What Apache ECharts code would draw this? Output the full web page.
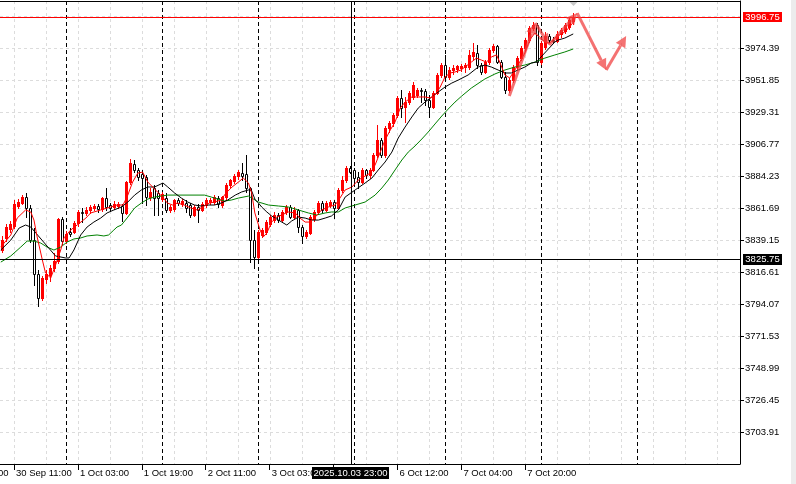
<!DOCTYPE html>
<html><head><meta charset="utf-8">
<script src="https://cdn.jsdelivr.net/npm/echarts@6/dist/echarts.min.js"></script>
<style>html,body{margin:0;padding:0;background:#fff;overflow:hidden}#c{width:796px;height:484px}</style>
</head><body><div id="c"></div>
<script>
// ---- data (H1 bars, index 0 = 30 Sep 08:00) ----
const barOpen = [3832.3,3840.8,3847.1,3849.2,3863.3,3865.4,3869.6,3861.9,3839.3,3815.4,3798.5,3811.9,3814.7,3819.6,3824.6,3854.1,3838.6,3845.0,3845.0,3851.3,3859.1,3858.4,3860.5,3861.9,3863.3,3861.2,3868.9,3864.0,3862.6,3863.3,3863.3,3858.4,3880.2,3892.9,3888.7,3885.8,3883.7,3869.6,3876.0,3872.5,3868.2,3868.9,3860.5,3861.2,3867.5,3864.7,3865.4,3864.0,3857.0,3862.6,3860.5,3864.0,3866.1,3866.1,3868.9,3864.0,3869.6,3878.1,3880.9,3884.4,3886.5,3885.8,3876.0,3839.3,3827.4,3842.9,3845.0,3850.6,3853.4,3857.0,3853.4,3859.1,3862.6,3855.5,3860.5,3848.5,3842.2,3844.3,3854.1,3859.1,3865.4,3860.5,3864.0,3866.1,3861.9,3874.6,3881.6,3890.1,3888.7,3883.7,3880.2,3888.7,3885.1,3888.7,3899.2,3909.8,3899.2,3918.2,3921.8,3927.4,3939.4,3933.0,3936.5,3940.1,3941.5,3945.0,3944.3,3938.0,3933.0,3942.9,3955.6,3962.6,3954.2,3959.1,3959.8,3960.5,3961.2,3961.2,3969.0,3971.1,3962.6,3957.7,3964.7,3973.2,3976.0,3964.7,3954.2,3945.0,3952.0,3961.2,3967.5,3974.6,3980.2,3988.7,3990.8,3964.7,3975.3,3983.0,3980.2,3979.5,3984.4,3986.6,3989.4,3993.6];
const barHigh = [3842.2,3850.6,3852.7,3867.5,3868.2,3871.0,3872.5,3864.0,3847.8,3818.2,3814.0,3818.2,3821.7,3830.2,3854.8,3855.5,3845.7,3847.8,3852.7,3860.5,3861.9,3862.6,3864.0,3864.7,3864.7,3869.6,3876.0,3865.4,3866.8,3866.1,3864.7,3880.9,3896.4,3895.7,3890.1,3888.7,3885.1,3876.0,3878.1,3874.6,3873.2,3872.5,3864.0,3868.2,3868.9,3868.2,3867.5,3865.4,3864.0,3864.7,3866.1,3868.9,3868.9,3871.0,3870.3,3870.3,3879.5,3882.3,3885.8,3888.7,3893.6,3899.2,3876.7,3846.4,3846.4,3847.8,3853.4,3857.0,3859.1,3858.4,3860.5,3864.0,3864.0,3862.6,3861.2,3849.9,3846.4,3857.0,3860.5,3866.8,3866.8,3866.8,3867.5,3867.5,3876.0,3884.4,3891.5,3891.5,3890.1,3887.2,3890.1,3889.4,3890.1,3900.6,3920.4,3911.2,3919.6,3923.2,3928.8,3940.8,3945.0,3940.1,3944.3,3950.6,3946.4,3946.4,3946.0,3941.5,3944.3,3957.0,3964.0,3969.7,3961.2,3962.6,3962.6,3963.3,3964.0,3973.2,3978.1,3976.7,3964.0,3966.1,3974.6,3977.4,3976.7,3966.1,3957.7,3953.5,3962.6,3969.0,3976.0,3981.6,3990.1,3992.9,3992.2,3979.5,3985.9,3984.4,3982.3,3986.6,3988.7,3992.2,3995.7,3999.2];
const barLow = [3830.9,3838.6,3845.0,3847.8,3861.9,3864.7,3855.5,3837.9,3807.6,3792.9,3797.1,3809.1,3810.5,3817.5,3823.1,3836.5,3837.2,3842.2,3844.3,3849.2,3852.0,3857.0,3858.4,3860.5,3859.1,3859.8,3860.5,3859.8,3861.2,3861.9,3852.7,3857.7,3878.8,3887.2,3881.6,3865.4,3864.0,3867.5,3857.0,3857.0,3866.8,3859.1,3859.1,3859.8,3864.0,3863.3,3859.1,3855.5,3856.3,3852.0,3859.8,3862.6,3864.7,3864.7,3862.6,3862.6,3868.2,3876.7,3879.5,3882.3,3881.6,3873.2,3823.8,3819.6,3826.7,3841.5,3843.6,3849.2,3852.0,3852.0,3852.7,3857.7,3854.8,3854.8,3845.0,3837.2,3840.8,3843.6,3852.7,3857.7,3859.1,3859.8,3862.6,3854.8,3861.2,3873.2,3880.2,3886.5,3878.1,3876.0,3879.5,3883.0,3883.0,3888.0,3897.8,3897.8,3897.8,3915.4,3919.6,3926.0,3926.0,3922.5,3935.1,3938.7,3940.1,3936.5,3934.4,3926.0,3932.3,3942.2,3954.2,3952.8,3952.8,3956.3,3957.7,3958.4,3957.7,3959.8,3966.8,3960.5,3956.3,3957.0,3963.3,3971.8,3964.0,3953.5,3942.9,3943.6,3950.6,3959.1,3966.1,3972.5,3978.8,3987.3,3962.6,3963.3,3973.9,3978.8,3978.1,3978.8,3982.3,3985.2,3988.0,3991.5];
const barClose = [3839.3,3848.5,3850.6,3864.7,3866.1,3869.6,3861.9,3839.3,3815.4,3798.5,3812.6,3815.4,3819.6,3824.6,3854.1,3838.6,3843.6,3843.6,3851.3,3859.1,3858.4,3860.5,3862.6,3863.3,3861.2,3868.9,3862.6,3861.9,3864.7,3864.7,3858.4,3880.2,3893.6,3888.7,3883.7,3883.0,3869.6,3873.2,3868.9,3868.9,3871.8,3860.5,3862.6,3867.5,3865.4,3866.8,3861.9,3857.0,3862.6,3860.5,3864.7,3867.5,3867.5,3869.6,3864.7,3869.6,3878.1,3881.6,3884.4,3887.2,3884.4,3876.0,3839.3,3827.4,3845.0,3846.4,3852.0,3855.5,3857.0,3853.4,3859.1,3862.6,3855.5,3860.5,3848.5,3842.2,3845.0,3855.5,3859.1,3865.4,3860.5,3865.4,3866.1,3861.9,3874.6,3881.6,3890.1,3887.2,3883.0,3880.2,3888.7,3885.1,3888.7,3899.2,3909.8,3899.2,3918.2,3921.8,3927.4,3939.4,3932.3,3936.5,3942.9,3948.5,3945.0,3944.3,3938.0,3933.0,3942.9,3955.6,3962.6,3954.2,3959.1,3960.5,3961.9,3961.9,3962.6,3969.7,3971.8,3962.6,3957.7,3964.7,3973.2,3976.0,3964.7,3954.2,3945.0,3952.0,3961.2,3967.5,3974.6,3980.2,3988.7,3990.8,3964.7,3978.1,3983.0,3980.2,3979.5,3984.4,3987.3,3990.8,3994.3,3996.75];

// moving averages: [bar, price]
const maFast = [[-0.3,3834.4],[2.2,3842.9],[3.8,3854.8],[5.9,3860.5],[7.2,3859.1],[8,3853.4],[8.8,3841.5],[10.1,3825.3],[10.9,3816.1],[12.2,3812.6],[13.4,3821.7],[14.7,3832.3],[15.5,3840.8],[17.2,3846.4],[18.8,3849.9],[21,3854.8],[22.2,3858.4],[24.7,3860.5],[27.2,3862.6],[28.8,3864.0],[30.3,3864.0],[31.5,3871.0],[32.7,3880.2],[34,3886.5],[35.2,3887.2],[36.5,3880.2],[37.7,3876.7],[38.9,3873.2],[40.2,3869.6],[41.4,3865.4],[42.7,3864.0],[43.9,3865.4],[45.6,3864.0],[47.3,3861.9],[48.9,3860.5],[50.2,3862.6],[51.9,3865.4],[53.2,3866.1],[54.8,3867.5],[56.1,3872.5],[57.6,3876.7],[59.2,3880.2],[60.4,3883.0],[61.7,3879.5],[62.5,3872.5],[63.3,3858.4],[64.6,3846.4],[65.4,3841.5],[66.3,3844.3],[67.5,3852.0],[68.8,3855.5],[70,3857.0],[71.7,3859.1],[73.4,3858.4],[74.6,3854.8],[75.9,3852.0],[77.1,3852.0],[78.4,3855.5],[80,3860.5],[81.7,3862.6],[83.4,3864.0],[84.6,3868.9],[85.9,3874.6],[87.6,3876.7],[89.2,3881.6],[90.9,3884.4],[92.2,3886.5],[93.4,3892.2],[94.7,3901.3],[95.9,3909.8],[97.2,3916.8],[98.4,3922.5],[99.7,3932.3],[100.9,3936.5],[102.6,3940.1],[104.2,3940.1],[105.9,3940.1],[107.2,3939.4],[108.4,3941.5],[109.7,3947.1],[110.9,3954.2],[112.2,3957.0],[113.4,3957.7],[114.9,3959.1],[115.9,3961.2],[117.5,3964.7],[118.8,3967.5],[120,3966.1],[121.3,3964.7],[122.5,3968.3],[123.8,3969.7],[124.6,3964.7],[125.9,3955.6],[127.1,3953.5],[128.4,3959.1],[129.6,3964.7],[130.9,3971.1],[132.1,3980.2],[133.4,3985.2],[134.6,3982.3],[135.9,3978.8],[137.1,3978.1],[138.4,3981.6],[139.6,3983.8],[140.9,3985.9],[142.1,3989.4],[143,3992.9]];
const maMid = [[-0.3,3832.3],[2.2,3839.3],[4.3,3847.8],[5.9,3849.9],[7.2,3848.5],[13.4,3828.1],[13.8,3827.4],[15.9,3826.7],[16.8,3826.7],[18,3832.3],[19.7,3842.9],[21.3,3848.5],[23,3852.0],[24.7,3854.8],[26.3,3858.4],[28,3860.5],[29.9,3862.6],[31.5,3866.1],[33.2,3871.0],[34.9,3874.6],[36.5,3876.7],[38.2,3876.7],[40.3,3879.5],[41.5,3876.7],[43.2,3872.5],[44.9,3868.9],[46.5,3866.1],[48.2,3864.0],[49.9,3863.3],[51.5,3864.0],[53.2,3864.0],[54.9,3865.4],[56.5,3867.5],[58.4,3871.0],[60,3873.2],[61.7,3874.6],[62.5,3873.9],[63.4,3867.5],[64.2,3865.4],[65,3862.6],[66.3,3859.1],[67.5,3856.3],[69.2,3853.4],[71.3,3849.9],[72.5,3852.7],[74.2,3855.5],[75.9,3854.8],[77.5,3853.4],[79.2,3853.4],[80.9,3854.8],[82.5,3856.3],[84.2,3860.5],[85.9,3869.6],[88.4,3874.6],[90.9,3879.5],[92.6,3883.0],[94.2,3888.7],[95.9,3894.3],[97.6,3901.3],[99.2,3911.2],[100.9,3918.9],[102.6,3926.0],[104.2,3932.3],[105.9,3936.5],[107.6,3940.1],[109.2,3943.6],[110.9,3947.1],[112.6,3949.9],[114.2,3952.0],[116.7,3955.6],[119.2,3961.2],[120.9,3962.6],[122.5,3961.2],[124.2,3959.1],[125.9,3957.0],[127.5,3957.0],[129.2,3959.1],[130.9,3961.2],[132.5,3964.0],[133.8,3964.7],[135.4,3969.7],[138.4,3978.8],[139.2,3980.2],[140.9,3981.6],[143,3984.5]];
const maSlow = [[-0.3,3823.8],[2.2,3828.1],[4.7,3834.4],[6.3,3838.6],[8,3838.6],[9.7,3837.2],[11.3,3834.4],[13,3832.3],[14.7,3834.4],[16.3,3837.9],[18,3840.1],[19.7,3840.8],[21.3,3842.2],[23.8,3842.9],[25.5,3842.2],[26.7,3842.9],[28,3846.4],[28.8,3848.5],[29.9,3849.9],[31.5,3855.5],[33.2,3861.9],[34.9,3865.4],[36.5,3868.2],[38.2,3869.6],[39.9,3870.3],[41.5,3871.0],[43.2,3871.0],[50.7,3871.0],[52.4,3869.6],[54,3868.2],[55.7,3866.8],[57.4,3867.5],[59.2,3868.9],[61.7,3870.3],[64.2,3866.1],[66.7,3864.0],[69.2,3863.3],[71.7,3862.6],[74.2,3860.5],[76.7,3858.4],[78.8,3857.0],[80.9,3858.4],[82.5,3859.1],[84.2,3859.1],[85.9,3861.9],[88.4,3864.0],[90.9,3866.1],[93.4,3871.0],[95.1,3876.0],[96.7,3881.6],[98.4,3888.7],[100.1,3895.7],[101.7,3901.3],[103.4,3905.6],[105.1,3910.5],[106.7,3915.4],[108.4,3921.1],[110.1,3926.7],[111.7,3931.6],[113.4,3936.5],[115.1,3940.8],[117.5,3946.4],[120.9,3952.8],[123.4,3956.3],[125.9,3959.1],[128.4,3961.2],[130.9,3962.6],[133.4,3964.7],[135.9,3967.5],[138.4,3969.7],[140.9,3971.8],[143,3973.9]];

// axis ticks
const priceTicks = [3703.91,3726.45,3748.99,3771.53,3794.07,3816.61,3839.15,3861.69,3884.23,3906.77,3929.31,3951.85,3974.39];
const priceGrid = [3703.91,3726.45,3748.99,3771.53,3794.07,3816.61,3839.15,3861.69,3884.23,3906.77,3929.31,3951.85,3974.39,3996.93];
const timeTickBars = [3,19,35,51,67,83,99,115,131];
const timeTickLabels = ['30 Sep 11:00','1 Oct 03:00','1 Oct 19:00','2 Oct 11:00','3 Oct 03:00','3 Oct 19:00','6 Oct 12:00','7 Oct 04:00','7 Oct 20:00'];
const timeLabelBars = [3,19,35,51,67,99,115,131];
const offscreenTickBar = -13;
const offscreenTickLabel = '29 Sep 19:00';
const gridBars = [3,11,19,27,35,43,51,59,67,75,83,91,99,107,115,123,131,139,147,155,163,171,179];
const daySeparators = [16,40,64,88,111,135,159];

// price line, crosshair, drawn arrows
const bidPrice = 3996.75;
const crossBar = 87.25;
const crossPrice = 3825.75;
const crossTime = '2025.10.03 23:00';
const arrowFromBar = [127, 133.5, 137, 144, 151.25];
const arrowFromPrice = [3940.8, 3992.2, 3976.7, 3999.2, 3959.1];
const arrowToBar = [133.5, 137, 144, 151.25, 156.25];
const arrowToPrice = [3992.2, 3976.7, 3999.2, 3959.1, 3983.0];

const FAMILY = '"Liberation Sans", Arial, sans-serif';
const FSIZE = 9.5;
const FONT = FSIZE + 'px ' + FAMILY;
const ARROW = 'rgba(240,60,60,0.72)';

const candles = barOpen.map((o, i) => [i, o, barHigh[i], barLow[i], barClose[i]]);
const arrows = arrowFromBar.map((b, i) => [b, arrowFromPrice[i], arrowToBar[i], arrowToPrice[i]]);
const lastBar = barClose.length - 1;

function px(v) { return Math.round(v) + 0.5; }

const chart = echarts.init(document.getElementById('c'), null, {renderer: 'canvas'});
chart.setOption({
  animation: false,
  backgroundColor: '#ffffff',
  textStyle: {fontFamily: FAMILY},
  grid: {left: -1, top: 1, width: 741, height: 463, show: false},
  xAxis: {
    type: 'value', min: -0.5, max: 184.75, position: 'bottom',
    axisLine: {show: true, onZero: false, lineStyle: {color: '#000', width: 1}},
    axisTick: {show: true, length: 6, inside: false, customValues: timeTickBars, lineStyle: {color: '#000'}},
    axisLabel: {
      show: true, customValues: timeLabelBars, align: 'left', margin: 4, padding: [0, 0, 0, 2],
      color: '#000', fontSize: FSIZE, fontFamily: FAMILY, hideOverlap: false,
      formatter: v => { const k = timeTickBars.indexOf(v); return k >= 0 ? timeTickLabels[k] : ''; }
    },
    splitLine: {show: false}
  },
  yAxis: {
    type: 'value', min: 3681.57, max: 4007.71, position: 'right', scale: true,
    axisLine: {show: true, onZero: false, lineStyle: {color: '#000', width: 1}},
    axisTick: {show: true, length: 4, inside: false, customValues: priceTicks, lineStyle: {color: '#000'}},
    axisLabel: {
      show: true, customValues: priceTicks, margin: 5, color: '#000', fontSize: FSIZE,
      fontFamily: FAMILY, formatter: v => v.toFixed(2)
    },
    splitLine: {show: false}
  },
  series: [
    { // horizontal grid
      type: 'custom', silent: true, z: 1, data: priceGrid.map(v => [0, v]),
      renderItem: (params, api) => {
        const cs = params.coordSys; const y = px(api.coord([0, api.value(1)])[1]);
        return {type: 'line', shape: {x1: 0, y1: y, x2: cs.x + cs.width, y2: y},
          style: {stroke: '#dcdcdc', lineWidth: 1, lineDash: [3, 3]}};
      }
    },
    { // vertical grid
      type: 'custom', silent: true, z: 1, data: gridBars.map(b => [b, 3800]),
      renderItem: (params, api) => {
        const cs = params.coordSys; const x = px(api.coord([api.value(0), 3800])[0]);
        return {type: 'line', shape: {x1: x, y1: cs.y, x2: x, y2: cs.y + cs.height},
          style: {stroke: '#dcdcdc', lineWidth: 1, lineDash: [3, 3]}};
      }
    },
    { // day separators
      type: 'custom', silent: true, z: 2, data: daySeparators.map(b => [b, 3800]),
      renderItem: (params, api) => {
        const cs = params.coordSys; const x = px(api.coord([api.value(0), 3800])[0]);
        return {type: 'line', shape: {x1: x, y1: cs.y, x2: x, y2: cs.y + cs.height},
          style: {stroke: '#000', lineWidth: 1, lineDash: [4, 3]}};
      }
    },
    { // frame top + chart-shift marker above the last bar
      type: 'custom', silent: true, z: 2, data: [[lastBar, 3800]],
      renderItem: (params, api) => {
        const cs = params.coordSys; const x = Math.round(api.coord([api.value(0), 3800])[0]) + 0.5;
        return {type: 'group', children: [
          {type: 'rect', shape: {x: 0, y: cs.y, width: cs.x + cs.width, height: 1}, style: {fill: '#000'}},
          {type: 'polygon', shape: {points: [[x - 4, cs.y + 1], [x + 4, cs.y + 1], [x, cs.y + 5]]}, style: {fill: '#c8c8c8'}}
        ]};
      }
    },
    { // time label of the bar just left of the window (only its tail shows)
      type: 'custom', silent: true, z: 2, data: [[offscreenTickBar, 3800]],
      renderItem: (params, api) => {
        const cs = params.coordSys; const x = Math.round(api.coord([api.value(0), 3800])[0]);
        return {type: 'text', style: {text: offscreenTickLabel, x: x + 2, y: cs.y + cs.height + 4, align: 'left', verticalAlign: 'top',
          font: FONT, fill: '#000'}};
      }
    },
    { // candles
      type: 'custom', silent: true, z: 3, data: candles, encode: {x: 0, y: [1, 2, 3, 4]},
      renderItem: (params, api) => {
        const i = api.value(0), o = api.value(1), h = api.value(2), l = api.value(3), c = api.value(4);
        const po = api.coord([i, o]), ph = api.coord([i, h]), pl = api.coord([i, l]), pc = api.coord([i, c]);
        const cx = Math.round(po[0]);
        const up = c >= o;
        const ink = up ? '#ff0000' : '#000000';
        const top = Math.round(Math.min(po[1], pc[1])), bot = Math.round(Math.max(po[1], pc[1]));
        const kids = [{type: 'rect', shape: {x: cx, y: Math.round(ph[1]), width: 1, height: Math.round(pl[1]) - Math.round(ph[1]) + 1},
          style: {fill: ink}}];
        if (up) {
          kids.push({type: 'rect', shape: {x: cx - 1, y: top, width: 3, height: Math.max(1, bot - top + 1)}, style: {fill: ink}});
        } else if (bot - top < 1) {
          kids.push({type: 'rect', shape: {x: cx - 1, y: top, width: 3, height: 1}, style: {fill: ink}});
        } else {
          kids.push({type: 'rect', shape: {x: cx - 0.5, y: top + 0.5, width: 2, height: bot - top},
            style: {fill: '#ffffff', stroke: ink, lineWidth: 1}});
        }
        return {type: 'group', children: kids};
      }
    },
    {type: 'line', name: 'MA slow', z: 4, silent: true, symbol: 'none', data: maSlow, lineStyle: {color: '#008000', width: 1}},
    {type: 'line', name: 'MA mid', z: 4, silent: true, symbol: 'none', data: maMid, lineStyle: {color: '#000000', width: 1}},
    {type: 'line', name: 'MA fast', z: 4, silent: true, symbol: 'none', data: maFast, lineStyle: {color: '#ff0000', width: 1}},
    { // bid line
      type: 'custom', silent: true, z: 5, data: [[0, bidPrice]],
      renderItem: (params, api) => {
        const cs = params.coordSys; const y = Math.round(api.coord([0, api.value(1)])[1]);
        return {type: 'group', children: [
          {type: 'rect', shape: {x: 0, y: y, width: cs.x + cs.width, height: 1}, style: {fill: '#ff0000'}},
          {type: 'rect', shape: {x: cs.x + cs.width + 3, y: y - 5, width: 39, height: 10}, style: {fill: '#ff0000'}},
          {type: 'text', style: {text: api.value(1).toFixed(2), x: cs.x + cs.width + 22.5, y: y + 0.5, align: 'center', verticalAlign: 'middle',
            font: FONT, fill: '#ffffff'}}
        ]};
      }
    },
    { // crosshair
      type: 'custom', silent: true, z: 6, data: [[crossBar, crossPrice]],
      renderItem: (params, api) => {
        const cs = params.coordSys; const p = api.coord([api.value(0), api.value(1)]);
        const x = Math.round(p[0]), y = Math.round(p[1]);
        return {type: 'group', children: [
          {type: 'rect', shape: {x: 0, y: y, width: cs.x + cs.width, height: 1}, style: {fill: '#000'}},
          {type: 'rect', shape: {x: x, y: cs.y, width: 1, height: cs.height}, style: {fill: '#000'}},
          {type: 'rect', shape: {x: cs.x + cs.width + 3, y: y - 5, width: 39, height: 11}, style: {fill: '#000'}},
          {type: 'text', style: {text: api.value(1).toFixed(2), x: cs.x + cs.width + 22.5, y: y + 0.5, align: 'center', verticalAlign: 'middle',
            font: FONT, fill: '#ffffff'}},
          {type: 'rect', shape: {x: x - 39, y: cs.y + cs.height + 3, width: 77, height: 12}, style: {fill: '#000'}},
          {type: 'text', style: {text: crossTime, x: x - 0.5, y: cs.y + cs.height + 9.5, align: 'center', verticalAlign: 'middle',
            font: FONT, fill: '#ffffff'}}
        ]};
      }
    },
    { // drawn arrows
      type: 'custom', silent: true, z: 7, data: arrows, encode: {x: [0, 2], y: [1, 3]},
      renderItem: (params, api) => {
        const a = api.coord([api.value(0), api.value(1)]), b = api.coord([api.value(2), api.value(3)]);
        const dx = b[0] - a[0], dy = b[1] - a[1], len = Math.hypot(dx, dy), ux = dx / len, uy = dy / len;
        const hl = 11, hw = 5.5;
        const bx = b[0] - ux * hl, by = b[1] - uy * hl;
        return {type: 'group', children: [
          {type: 'line', shape: {x1: a[0], y1: a[1], x2: bx, y2: by}, style: {stroke: ARROW, lineWidth: 3}},
          {type: 'polygon', shape: {points: [[b[0], b[1]], [bx - uy * hw, by + ux * hw], [bx + uy * hw, by - ux * hw]]}, style: {fill: ARROW}}
        ]};
      }
    }
  ],
  graphic: [{type: 'rect', right: 0, top: 0, shape: {width: 5, height: 484}, style: {fill: '#ececec'}, silent: true}]
});
</script>
</body></html>
